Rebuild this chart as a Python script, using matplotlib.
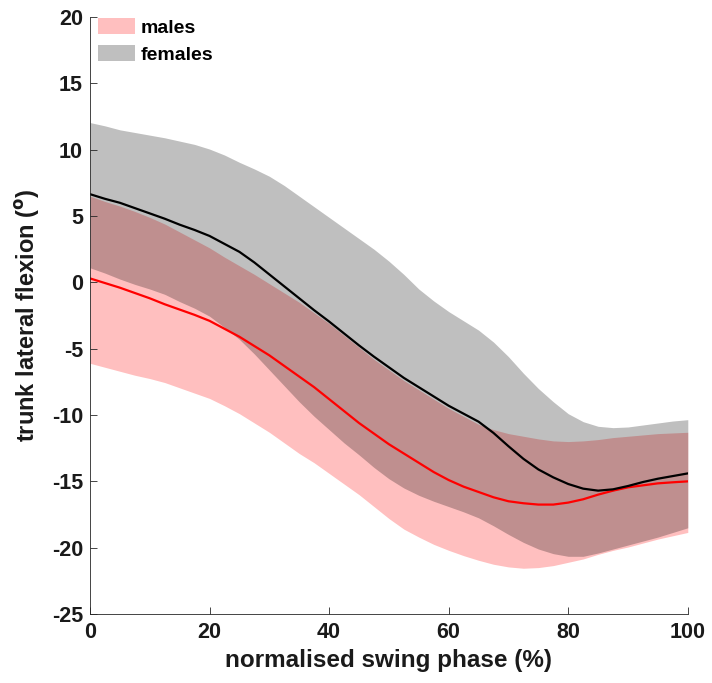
import numpy as np
import matplotlib
matplotlib.use("Agg")
import matplotlib.pyplot as plt
from matplotlib.patches import Patch

plt.rcParams['font.family'] = ['Liberation Sans', 'DejaVu Sans']
plt.rcParams['font.weight'] = 'bold'
plt.rcParams['mathtext.default'] = 'bf'
plt.rcParams['axes.unicode_minus'] = False

# --- data (normalised swing phase, %) --------------------------------------
phase = [0, 2.5, 5, 7.5, 10, 12.5, 15, 17.5, 20, 22.5, 25, 27.5, 30, 32.5,
         35, 37.5, 40, 42.5, 45, 47.5, 50, 52.5, 55, 57.5, 60, 62.5, 65,
         67.5, 70, 72.5, 75, 77.5, 80, 82.5, 85, 87.5, 90, 92.5, 95, 97.5, 100]

male_mean = [0.3, -0.05, -0.4, -0.8, -1.2, -1.65, -2.05, -2.45, -2.9, -3.5,
             -4.1, -4.8, -5.5, -6.3, -7.1, -7.9, -8.8, -9.7, -10.6, -11.4,
             -12.2, -12.9, -13.6, -14.3, -14.9, -15.4, -15.8, -16.2, -16.5,
             -16.65, -16.75, -16.75, -16.6, -16.35, -16.0, -15.7, -15.45,
             -15.3, -15.15, -15.07, -15.0]
male_upper = [6.5, 6.1, 5.75, 5.35, 4.9, 4.4, 3.8, 3.2, 2.6, 1.9,
              1.25, 0.6, -0.1, -0.8, -1.5, -2.3, -3.1, -4.0, -4.9, -5.8,
              -6.6, -7.4, -8.1, -8.8, -9.5, -10.1, -10.7, -11.1, -11.4,
              -11.6, -11.8, -11.95, -12.0, -11.95, -11.85, -11.7, -11.6,
              -11.5, -11.4, -11.35, -11.3]
male_lower = [-6.1, -6.4, -6.7, -7.0, -7.25, -7.55, -7.95, -8.35, -8.75, -9.3,
              -9.9, -10.6, -11.3, -12.1, -12.9, -13.6, -14.4, -15.2, -16.0, -16.9,
              -17.8, -18.6, -19.2, -19.75, -20.2, -20.6, -20.95, -21.25, -21.45,
              -21.55, -21.5, -21.35, -21.1, -20.85, -20.5, -20.2, -19.95,
              -19.65, -19.35, -19.1, -18.85]

female_mean = [6.65, 6.3, 6.0, 5.6, 5.2, 4.8, 4.35, 3.95, 3.5, 2.9,
               2.3, 1.5, 0.6, -0.3, -1.2, -2.1, -2.95, -3.85, -4.75, -5.6,
               -6.4, -7.2, -7.9, -8.6, -9.3, -9.9, -10.5, -11.35, -12.35,
               -13.3, -14.1, -14.7, -15.2, -15.55, -15.7, -15.6, -15.35,
               -15.05, -14.8, -14.6, -14.4]
female_upper = [12.05, 11.8, 11.5, 11.3, 11.1, 10.9, 10.65, 10.4, 10.05, 9.6,
                9.05, 8.55, 8.0, 7.3, 6.5, 5.7, 4.9, 4.1, 3.3, 2.5,
                1.6, 0.6, -0.5, -1.4, -2.2, -2.9, -3.6, -4.5, -5.6,
                -6.85, -8.0, -9.0, -9.9, -10.5, -10.85, -10.95, -10.9,
                -10.75, -10.6, -10.45, -10.35]
female_lower = [1.1, 0.7, 0.25, -0.15, -0.5, -0.9, -1.45, -1.95, -2.55, -3.4,
                -4.3, -5.4, -6.6, -7.8, -9.0, -10.1, -11.1, -12.1, -13.0, -13.95,
                -14.8, -15.5, -16.05, -16.5, -16.9, -17.3, -17.75, -18.35, -19.0,
                -19.6, -20.1, -20.45, -20.65, -20.65, -20.4, -20.1, -19.8,
                -19.5, -19.2, -18.85, -18.5]

xticks = [0, 20, 40, 60, 80, 100]
yticks = [-25, -20, -15, -10, -5, 0, 5, 10, 15, 20]

fig = plt.figure(figsize=(7.12, 6.83), dpi=100)
ax = fig.add_axes([0.1264, 0.101, 0.8396, 0.874])

# --- bands ---
ax.fill_between(phase, male_lower, male_upper, color='red', alpha=0.25,
                linewidth=0)
ax.fill_between(phase, female_lower, female_upper, color='black', alpha=0.25,
                linewidth=0)

# --- means ---
ax.plot(phase, male_mean, color='red', linewidth=1.6)
ax.plot(phase, female_mean, color='black', linewidth=1.6)

ax.set_xlim(0, 100)
ax.set_ylim(-25, 20)
ax.set_xticks(xticks)
ax.set_yticks(yticks)

for side in ('top', 'right'):
    ax.spines[side].set_visible(False)
for side in ('left', 'bottom'):
    ax.spines[side].set_color('#262626')
    ax.spines[side].set_linewidth(0.6)
ax.tick_params(direction='in', length=5, width=0.6, color='#262626',
               labelsize=15.5, labelcolor='#1a1a1a')
ax.tick_params(axis='x', pad=6)
ax.tick_params(axis='y', pad=5)
for lab in ax.get_xticklabels() + ax.get_yticklabels():
    lab.set_fontweight('bold')

ax.set_xlabel('normalised swing phase (%)', fontsize=17.5, fontweight='bold',
              color='#1a1a1a', labelpad=4)
ax.set_ylabel(r'trunk lateral flexion ($^\mathbf{o}$)', fontsize=17,
              fontweight='bold', color='#1a1a1a', labelpad=7)

handles = [Patch(facecolor=(1, 0.75, 0.75), edgecolor='none', label='males'),
           Patch(facecolor=(0.75, 0.75, 0.75), edgecolor='none', label='females')]
ax.legend(handles=handles, loc='upper left', frameon=False,
          prop={'size': 14, 'weight': 'bold'}, handlelength=1.9,
          handleheight=0.95, handletextpad=0.3, labelspacing=0.4,
          borderaxespad=0.0, bbox_to_anchor=(0.0, 1.012))

fig.savefig('out.png', dpi=100)
